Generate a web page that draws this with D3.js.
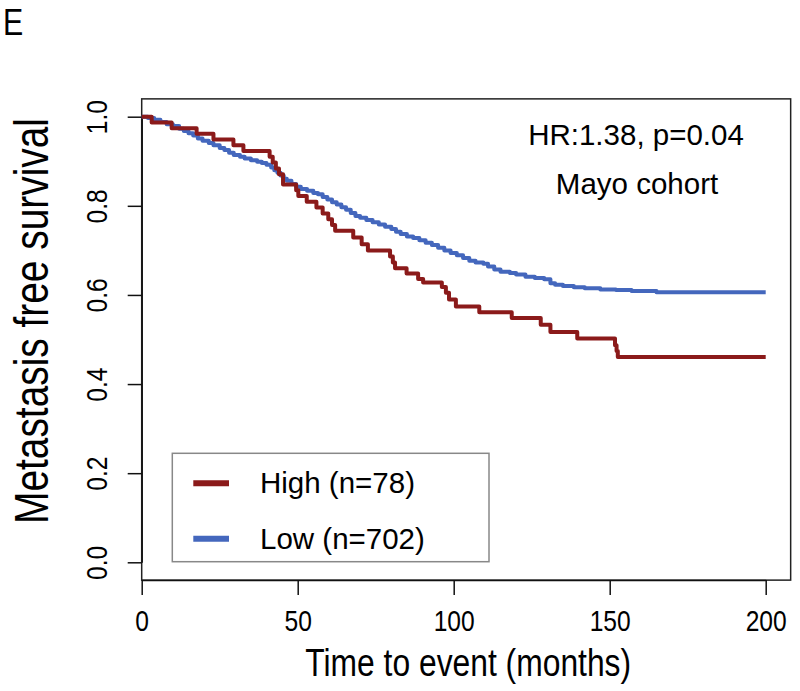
<!DOCTYPE html>
<html>
<head>
<meta charset="utf-8">
<script src="https://cdn.jsdelivr.net/npm/d3@7"></script>
<style>
  html, body { margin: 0; padding: 0; background: #fff; }
  text { font-family: "Liberation Sans", Arial, Helvetica, sans-serif; fill: #000; }
</style>
</head>
<body>
<svg id="chart" width="800" height="691"></svg>
<script>
// ---- data ----
const xTicks = [0, 50, 100, 150, 200];
const yTicks = [0, 0.2, 0.4, 0.6, 0.8, 1.0];
const seriesNames = ["High (n=78)", "Low (n=702)"];
const seriesColors = ["#8b1a1a", "#4467bd"];

// High group: [time (months), survival]
const highTimes = [0, 3.2, 9.6, 17.6, 23, 29.4, 32.6, 41, 42, 43, 44, 45.3, 49.5, 50.2, 52.9, 56, 58, 59.8, 61, 62, 67.8, 70.5, 72.5, 79.6, 80.5, 81.2, 84.9, 88.6, 90.2, 96.2, 97.5, 98.5, 100.7, 108.2, 118.6, 127.9, 131, 139.6, 151.7, 152.2, 152.6, 200];
const highSurv  = [1.0, 0.987, 0.974, 0.962, 0.949, 0.936, 0.923, 0.91, 0.897, 0.884, 0.871, 0.848, 0.835, 0.822, 0.809, 0.796, 0.783, 0.770, 0.757, 0.744, 0.729, 0.714, 0.700, 0.686, 0.673, 0.660, 0.648, 0.636, 0.628, 0.618, 0.605, 0.590, 0.574, 0.561, 0.548, 0.533, 0.517, 0.502, 0.487, 0.474, 0.461, 0.461];

// Low group
const lowTimes = [0, 2, 4, 6, 8, 10, 12, 13.5, 15, 16.5, 18, 19.5, 21.5, 23, 25, 26.5, 28, 29.5, 31.5, 33, 35, 37, 38.5, 40, 41.5, 42.5, 43.5, 44.5, 45.5, 46.5, 48, 49.5, 51, 53, 55, 56.5, 58, 59.5, 61, 62.5, 64, 65.5, 67, 68.5, 70, 72, 74, 76, 78, 80, 81.5, 83, 85, 87, 89, 91, 93, 95, 97, 99, 101, 103, 105, 107, 109.5, 111, 113, 115, 118, 120, 123, 126, 129, 131, 132.5, 135, 138.5, 142, 147, 152, 157, 165, 200];
const lowSurv  = [1.0, 0.997, 0.993, 0.988, 0.983, 0.979, 0.973, 0.968, 0.963, 0.958, 0.951, 0.946, 0.941, 0.936, 0.930, 0.925, 0.919, 0.914, 0.910, 0.906, 0.902, 0.899, 0.896, 0.892, 0.886, 0.880, 0.874, 0.868, 0.861, 0.856, 0.849, 0.843, 0.838, 0.834, 0.829, 0.826, 0.820, 0.814, 0.808, 0.803, 0.797, 0.791, 0.784, 0.777, 0.773, 0.768, 0.763, 0.758, 0.753, 0.748, 0.742, 0.737, 0.731, 0.728, 0.723, 0.717, 0.712, 0.706, 0.700, 0.694, 0.689, 0.683, 0.677, 0.673, 0.670, 0.664, 0.657, 0.652, 0.649, 0.646, 0.641, 0.638, 0.635, 0.626, 0.623, 0.620, 0.617, 0.615, 0.612, 0.611, 0.609, 0.606, 0.606];

const panelLabel = "E";
const xTitle = "Time to event (months)";
const yTitle = "Metastasis free survival";
const annot = ["HR:1.38, p=0.04", "Mayo cohort"];

// ---- drawing ----
const NARROW = 0.82; // horizontal squeeze emulating a narrow sans face
const svg = d3.select("#chart");
const x = d3.scaleLinear().domain([0, 200]).range([141.7, 765.7]);
const y = d3.scaleLinear().domain([0, 1]).range([562.3, 116.7]);

// plot box (R style: x from 0 to 200*1.04, y from -0.04 to 1.04)
svg.append("rect")
  .attr("x", x(0)).attr("y", y(1.04))
  .attr("width", x(208) - x(0)).attr("height", y(-0.04) - y(1.04))
  .attr("fill", "none").attr("stroke", "#222").attr("stroke-width", 1.5);

// x axis
const xAxis = svg.append("g")
  .attr("transform", `translate(0,${y(-0.04)})`)
  .call(d3.axisBottom(x).tickValues(xTicks).tickSize(15).tickSizeOuter(0).tickFormat(d3.format("d")));
xAxis.selectAll(".tick text")
  .attr("font-size", 30)
  .style("font-family", "Liberation Sans, Arial, sans-serif")
  .attr("fill", "#000")
  .attr("text-anchor", "middle")
  .attr("y", null).attr("dy", null)
  .attr("transform", `translate(0,51) scale(${NARROW},1)`);

// y axis
const yAxis = svg.append("g")
  .attr("transform", `translate(${x(0)},0)`)
  .call(d3.axisLeft(y).tickValues(yTicks).tickSize(14).tickSizeOuter(0).tickFormat(d3.format(".1f")));
yAxis.selectAll(".tick text")
  .attr("font-size", 30)
  .style("font-family", "Liberation Sans, Arial, sans-serif")
  .attr("fill", "#000")
  .attr("text-anchor", "middle")
  .attr("x", null).attr("dy", null)
  .attr("transform", `translate(-34.5,0) rotate(-90) scale(${NARROW},1)`);
svg.selectAll(".domain, .tick line").attr("stroke", "#111").attr("stroke-width", 1.5);

// survival curves
const line = d3.line().curve(d3.curveStepAfter).x(d => x(d[0])).y(d => y(d[1]));
const highData = highTimes.map((t, i) => [t, highSurv[i]]);
const lowData = lowTimes.map((t, i) => [t, lowSurv[i]]);
svg.append("path").datum(lowData).attr("d", line)
  .attr("fill", "none").attr("stroke", seriesColors[1]).attr("stroke-width", 4).attr("stroke-linejoin", "round");
svg.append("path").datum(highData).attr("d", line)
  .attr("fill", "none").attr("stroke", seriesColors[0]).attr("stroke-width", 4).attr("stroke-linejoin", "round");

// annotations
svg.append("text").attr("x", 636).attr("y", 145).attr("text-anchor", "middle").attr("font-size", 29.5).text(annot[0]);
svg.append("text").attr("x", 637).attr("y", 194).attr("text-anchor", "middle").attr("font-size", 29.5).text(annot[1]);

// legend
svg.append("rect").attr("x", 172.3).attr("y", 453.3).attr("width", 316.7).attr("height", 108.4)
  .attr("fill", "#fff").attr("stroke", "#888").attr("stroke-width", 1.5);
const legY = [483.3, 538.7];
seriesNames.forEach((name, i) => {
  svg.append("line").attr("x1", 193.3).attr("x2", 229).attr("y1", legY[i]).attr("y2", legY[i])
    .attr("stroke", seriesColors[i]).attr("stroke-width", 6);
  svg.append("text").attr("x", 260).attr("y", legY[i] + 10).attr("font-size", 29.5).text(name);
});

// titles
svg.append("text")
  .attr("transform", `translate(${(x(0) + x(208)) / 2 + 2},676) scale(${NARROW},1)`)
  .attr("text-anchor", "middle").attr("font-size", 38.8).text(xTitle);
svg.append("text")
  .attr("transform", `translate(48,321) rotate(-90) scale(${NARROW},1)`)
  .attr("text-anchor", "middle").attr("font-size", 47.4).text(yTitle);
svg.append("text")
  .attr("transform", `translate(3,35) scale(${NARROW},1)`)
  .attr("font-size", 37).text(panelLabel);
</script>
</body>
</html>
